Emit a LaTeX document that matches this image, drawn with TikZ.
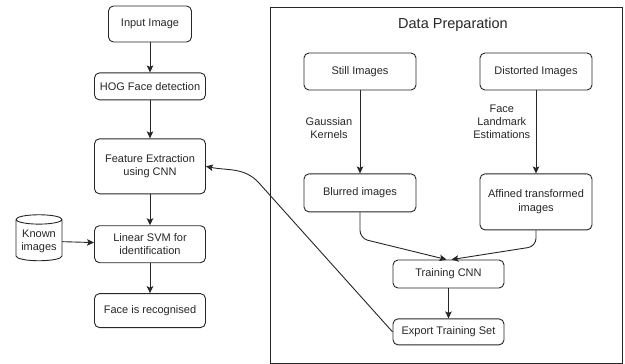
\documentclass[tikz,border=0pt]{standalone}
\usepackage{fontspec}
\setmainfont{Liberation Sans}
\usetikzlibrary{arrows,arrows.meta,positioning,shapes.geometric}
\tikzset{
  stage/.style={draw,rounded corners=5pt,align=center,minimum width=111pt,
    font=\fontsize{11}{13.5}\selectfont,inner sep=2pt},
  store/.style={draw,cylinder,shape border rotate=90,aspect=0.25,align=center,
    minimum width=46pt,minimum height=46pt,inner sep=1pt,font=\fontsize{11}{13}\selectfont},
  step label/.style={align=center,font=\fontsize{11}{13}\selectfont},
  pipeline/.style={
    ->,>={Stealth[length=7pt,width=6.5pt,inset=1.5pt]},line width=0.9pt,color=black!85,x=1pt,y=-1pt
  }
}
\begin{document}
\begin{tikzpicture}[pipeline]
  \useasboundingbox (0,0) rectangle (625,364);
  % recognition pipeline
  \node[stage,minimum width=83pt,minimum height=36pt] (in) at (150,24) {Input Image};
  \node[stage,minimum height=27pt] (hog) [below=30pt of in] {HOG Face detection};
  \node[stage,minimum height=55pt] (feat) [below=38pt of hog] {Feature Extraction\\using CNN};
  \node[stage,minimum height=37pt] (svm) [below=31pt of feat] {Linear SVM for\\identification};
  \node[stage,minimum height=34pt] (face) [below=30pt of svm] {Face is recognised};
  \node[store] (known) at (39,241) {Known\\images};
  \draw (in) -- (hog);
  \draw (hog) -- (feat);
  \draw (feat) -- (svm);
  \draw (svm) -- (face);
  \draw (known) -- (svm);
  % data preparation
  \draw[-] (270,7) rectangle (622,363);
  \node[font=\fontsize{14.5}{17}\selectfont] (title) at (453,25) {Data Preparation};
  \node[stage,minimum width=112pt,minimum height=37pt] (still) at (360,71.5) {Still Images};
  \node[stage,minimum width=112pt,minimum height=37pt] (dist) at (536,71.5) {Distorted Images};
  \node[stage,minimum width=112pt,minimum height=38pt] (blur) [below=83pt of still] {Blurred images};
  \node[stage,minimum width=112pt,minimum height=56pt] (aff) [below=83pt of dist] {Affined transformed\\images};
  \node[stage,minimum height=28pt] (train) at (448.5,274) {Training CNN};
  \node[stage,minimum height=26pt] (exp) [below=30pt of train] {Export Training Set};
  \draw (still) -- node[step label,left=4pt,pos=0.45] {Gaussian\\Kernels} (blur);
  \draw (dist) -- node[step label,left=2pt,pos=0.38] {Face\\Landmark\\Estimations} (aff);
  \draw[rounded corners=8pt] (blur.south) -- ++(0,26) -- ([xshift=-2pt]train.north);
  \draw[rounded corners=8pt] (aff.south) -- ++(0,16) -- ([xshift=3pt]train.north);
  \draw (train) -- (exp);
  \coordinate (bend) at (259,183);
  \draw (exp.west) -- (bend) to[out=132,in=-12] (feat.east);
\end{tikzpicture}
\end{document}
